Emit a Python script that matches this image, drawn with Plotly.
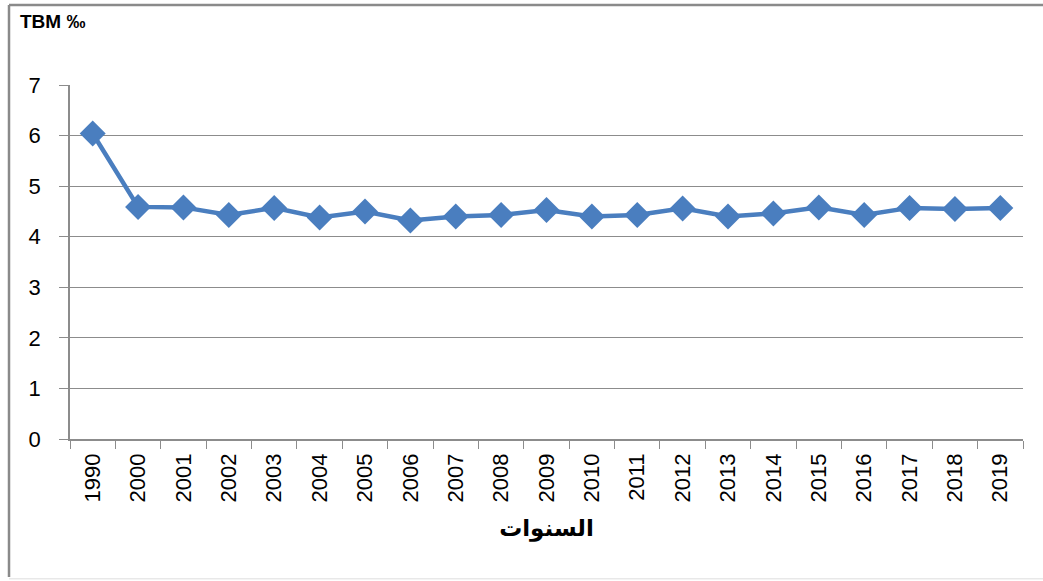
import plotly.graph_objects as go

years = ["1990", "2000", "2001", "2002", "2003", "2004", "2005", "2006", "2007", "2008",
         "2009", "2010", "2011", "2012", "2013", "2014", "2015", "2016", "2017", "2018", "2019"]
tbm = [6.04, 4.59, 4.58, 4.43, 4.57, 4.38, 4.50, 4.32, 4.40, 4.43,
       4.53, 4.40, 4.43, 4.56, 4.40, 4.46, 4.58, 4.43, 4.57, 4.55, 4.57]
y_ticks = [0, 1, 2, 3, 4, 5, 6, 7]

fig = go.Figure()
fig.add_trace(go.Scatter(
    x=years, y=tbm, mode="lines+markers",
    line=dict(color="#4A7EBF", width=4.5),
    marker=dict(symbol="diamond", size=20, color="#4A7EBF"),
    showlegend=False, hoverinfo="x+y",
))

fig.update_layout(
    width=1043, height=581,
    margin=dict(l=70, r=20, t=85, b=142),
    paper_bgcolor="white", plot_bgcolor="white",
    font=dict(family="Liberation Sans, Arial, sans-serif", color="#000000"),
    xaxis=dict(
        type="category", range=[-0.5, len(years) - 0.5], tickangle=-90, tickson="boundaries",
        ticks="outside", ticklen=8, tickcolor="#8C8C8C",
        showline=True, linecolor="#8C8C8C", linewidth=1.5,
        showgrid=False, tickfont=dict(size=22), ticklabelstandoff=4,
        title=dict(text="<b>السنوات</b>", font=dict(size=23, family="DejaVu Sans, Noto Sans, sans-serif"), standoff=18),
    ),
    yaxis=dict(
        range=[0, 7], tickvals=y_ticks, ticks="outside", ticklen=9,
        tickcolor="#8C8C8C", showline=True, linecolor="#8C8C8C", linewidth=1.5,
        showgrid=True, gridcolor="#8C8C8C", gridwidth=1.3, zeroline=False,
        tickfont=dict(size=22), ticklabelstandoff=14,
    ),
    shapes=[
        dict(type="line", xref="paper", yref="paper", x0=-0.064, x1=1.03, y0=1.226, y1=1.226,
             line=dict(color="#8A8A8A", width=2.5)),
        dict(type="line", xref="paper", yref="paper", x0=-0.064, x1=-0.064, y0=1.226, y1=-0.39,
             line=dict(color="#8A8A8A", width=2.5)),
        dict(type="line", xref="paper", yref="paper", x0=-0.064, x1=1.03, y0=-0.395, y1=-0.395,
             line=dict(color="#DDDDDD", width=1)),
    ],
    annotations=[
        dict(text="<b>TBM ‰</b>", xref="paper", yref="paper", x=-0.055, y=1.178,
             xanchor="left", yanchor="middle", showarrow=False,
             font=dict(size=19, family="Liberation Sans, Arial, sans-serif")),
    ],
)

fig.write_html("out.html", config={"displayModeBar": False},
               post_script="document.body.style.margin='0';")
